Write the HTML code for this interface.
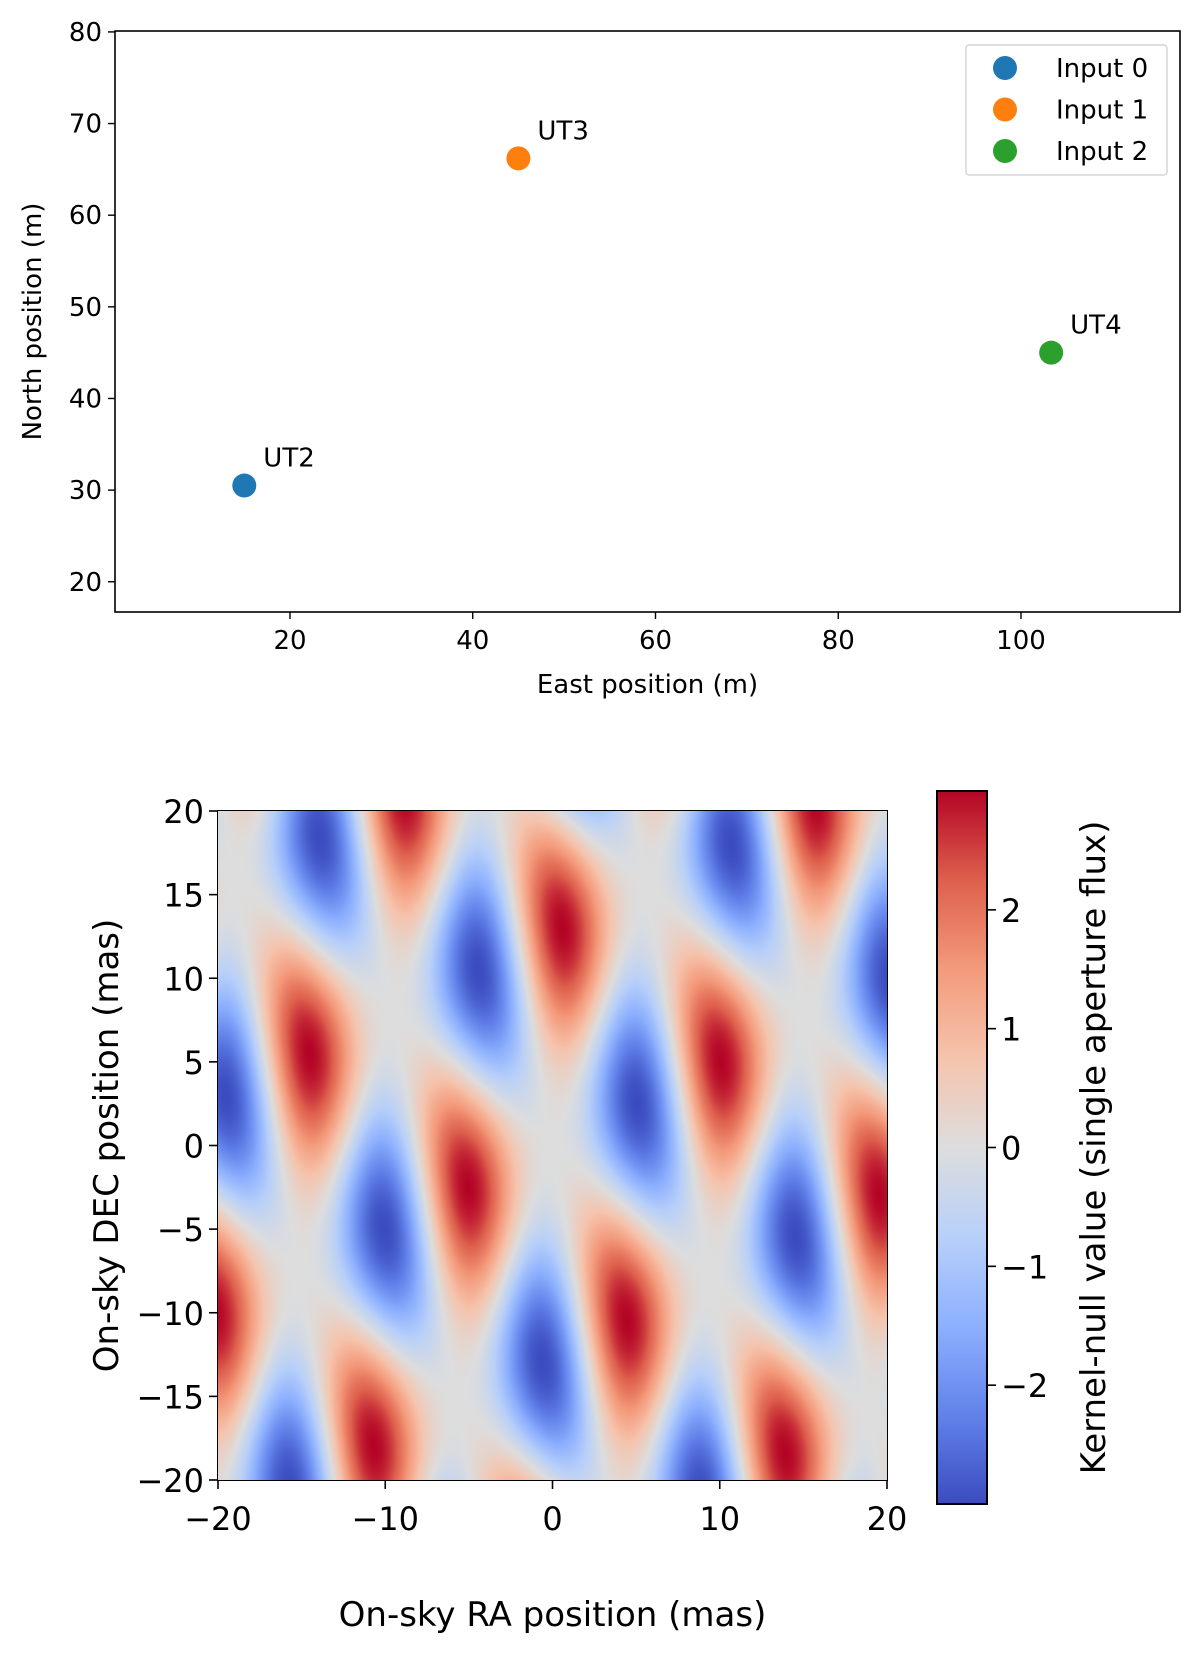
<!DOCTYPE html>
<html><head><meta charset="utf-8"><style>
body{margin:0;background:#fff;width:1200px;height:1659px;overflow:hidden;font-family:"Liberation Sans","DejaVu Sans",sans-serif}
#c{position:absolute;left:0;top:0}
</style></head><body>
<svg id="svg" width="1200" height="1659" xmlns="http://www.w3.org/2000/svg" style="position:absolute;left:0;top:0;font-family:'DejaVu Sans','Liberation Sans',sans-serif">
<defs><linearGradient id="cbg" x1="0" y1="1" x2="0" y2="0"></linearGradient></defs>
<g id="topplot"></g>
<g id="botplot"></g>
</svg>
<canvas id="c" width="669" height="669" style="left:218px;top:811px"></canvas>
<script>
const names=["UT2","UT3","UT4"];
const east=[15,45,103.3];
const north=[30.5,66.2,45];
const legendLabels=["Input 0","Input 1","Input 2"];
const colors=["#1f77b4","#ff7f0e","#2ca02c"];
const xTicks=[20,40,60,80,100];
const yTicks=[20,30,40,50,60,70,80];
const skyTicks=[-20,-10,0,10,20];
const decTicks=[-20,-15,-10,-5,0,5,10,15,20];
const cbTicks=[-2,-1,0,1,2];
const wavelength=3.5e-6;
const vmax=3.0;

const NS="http://www.w3.org/2000/svg";
function mk(tag,attrs,parent,text){const e=document.createElementNS(NS,tag);for(const k in attrs)e.setAttribute(k,attrs[k]);if(text!==undefined)e.textContent=text;parent.appendChild(e);return e;}
const topG=document.getElementById('topplot'),botG=document.getElementById('botplot');
const L=115,R=1180,T=31,B=612;
const xmin=0.85,xmax=117.4,ymin=16.7,ymax=80.1;
const sx=v=>L+(v-xmin)/(xmax-xmin)*(R-L);
const sy=v=>B-(v-ymin)/(ymax-ymin)*(B-T);
const FS=26;
let fr=mk('rect',{x:L,y:T,width:R-L,height:B-T,fill:'none',stroke:'#000','stroke-width':1.6},topG);

xTicks.forEach(v=>{const g=mk('g',{},topG);
 mk('line',{x1:sx(v),x2:sx(v),y1:B,y2:B+7,stroke:'#000','stroke-width':1.4},g);
 mk('text',{x:sx(v),y:B+37,'text-anchor':'middle','font-size':FS},g,v);});
yTicks.forEach(v=>{const g=mk('g',{},topG);
 mk('line',{x1:L-7,x2:L,y1:sy(v),y2:sy(v),stroke:'#000','stroke-width':1.4},g);
 mk('text',{x:L-13,y:sy(v)+9,'text-anchor':'end','font-size':FS},g,v);});
let t=mk('text',{x:(L+R)/2,y:693,'text-anchor':'middle','font-size':FS},topG,'East position (m)');

t=mk('text',{x:0,y:0,'text-anchor':'middle','font-size':FS,transform:'translate(41,'+((T+B)/2)+') rotate(-90)'},topG,'North position (m)');

names.forEach((n,i)=>{const g=mk('g',{},topG);
 mk('circle',{cx:sx(east[i]),cy:sy(north[i]),r:12,fill:colors[i]},g);
 mk('text',{x:sx(east[i])+19,y:sy(north[i])-19,'font-size':FS},g,n);});
const lg=mk('g',{},topG);
mk('rect',{x:966,y:45,width:201,height:130,rx:3,fill:'#fff',stroke:'#ccc','stroke-width':1.2},lg);
legendLabels.forEach((s,i)=>{const g=mk('g',{},lg);
 mk('circle',{cx:1005,cy:68+41.5*i,r:12,fill:colors[i]},g);
 mk('text',{x:1056,y:77+41.5*i,'font-size':FS},g,s);});

const cmStops=[[0,[59,76,192]],[0.125,[98,130,234]],[0.25,[141,176,254]],[0.375,[184,208,249]],[0.5,[221,221,221]],[0.625,[245,196,173]],[0.75,[244,154,123]],[0.875,[222,96,77]],[1,[180,4,38]]];
function cmap(f){f=Math.max(0,Math.min(1,f));for(let i=1;i<cmStops.length;i++){if(f<=cmStops[i][0]){const a=cmStops[i-1],b=cmStops[i];const u=(f-a[0])/(b[0]-a[0]);return a[1].map((c,k)=>c+(b[1][k]-c)*u);}}return cmStops[8][1];}
const HL=218,HT=811,HS=669;
const mas=4.8481e-9;
const B01=[east[1]-east[0],north[1]-north[0]],B12=[east[2]-east[1],north[2]-north[1]];
const ctx=document.getElementById('c').getContext('2d');
const img=ctx.createImageData(HS,HS);
for(let j=0;j<HS;j++){const dec=20-40*(j+0.5)/HS;for(let i=0;i<HS;i++){const ra=-20+40*(i+0.5)/HS;
 const p1=2*Math.PI*(B01[0]*ra+B01[1]*dec)*mas/wavelength,p2=2*Math.PI*(B12[0]*ra+B12[1]*dec)*mas/wavelength;
 const k=-(2/Math.sqrt(3))*(Math.sin(p1)+Math.sin(p2)-Math.sin(p1+p2));
 const c=cmap((k+vmax)/(2*vmax));const o=(j*HS+i)*4;img.data[o]=c[0];img.data[o+1]=c[1];img.data[o+2]=c[2];img.data[o+3]=255;}}
ctx.putImageData(img,0,0);
const hx=v=>HL+(v+20)/40*HS,hy=v=>HT+(20-v)/40*HS;
const TF=32;
fr=mk('rect',{x:HL,y:HT,width:HS,height:HS,fill:'none',stroke:'#000','stroke-width':2},botG);

skyTicks.forEach(v=>{const g=mk('g',{},botG);
 mk('line',{x1:hx(v),x2:hx(v),y1:HT+HS,y2:HT+HS+9,stroke:'#000','stroke-width':1.6},g);
 mk('text',{x:hx(v),y:HT+HS+50,'text-anchor':'middle','font-size':TF},g,String(v).replace('-','\u2212'));});
decTicks.forEach(v=>{const g=mk('g',{},botG);
 mk('line',{x1:HL-9,x2:HL,y1:hy(v),y2:hy(v),stroke:'#000','stroke-width':1.6},g);
 mk('text',{x:HL-14,y:hy(v)+12,'text-anchor':'end','font-size':TF},g,String(v).replace('-','\u2212'));});
t=mk('text',{x:HL+HS/2,y:1626,'text-anchor':'middle','font-size':34},botG,'On-sky RA position (mas)');

t=mk('text',{x:0,y:0,'text-anchor':'middle','font-size':34,transform:'translate(118,'+(HT+HS/2)+') rotate(-90)'},botG,'On-sky DEC position (mas)');

const grad=document.getElementById('cbg');
cmStops.forEach(s=>mk('stop',{offset:s[0],'stop-color':'rgb('+s[1].map(Math.round).join(',')+')'},grad));
const CL=937,CR=987,CT=791,CB=1504;const cy=v=>CB-(v+vmax)/(2*vmax)*(CB-CT);
const cb=mk('g',{},botG);
mk('rect',{x:CL,y:CT,width:CR-CL,height:CB-CT,fill:'url(#cbg)',stroke:'#000','stroke-width':2},cb);
cbTicks.forEach(v=>{const g=mk('g',{},cb);
 mk('line',{x1:CR,x2:CR+9,y1:cy(v),y2:cy(v),stroke:'#000','stroke-width':1.6},g);
 mk('text',{x:CR+14,y:cy(v)+12,'font-size':TF},g,String(v).replace('-','\u2212'));});
t=mk('text',{x:0,y:0,'text-anchor':'middle','font-size':34,transform:'translate(1105,'+((CT+CB)/2)+') rotate(-90)'},cb,'Kernel-null value (single aperture flux)');

</script>
</body></html>
